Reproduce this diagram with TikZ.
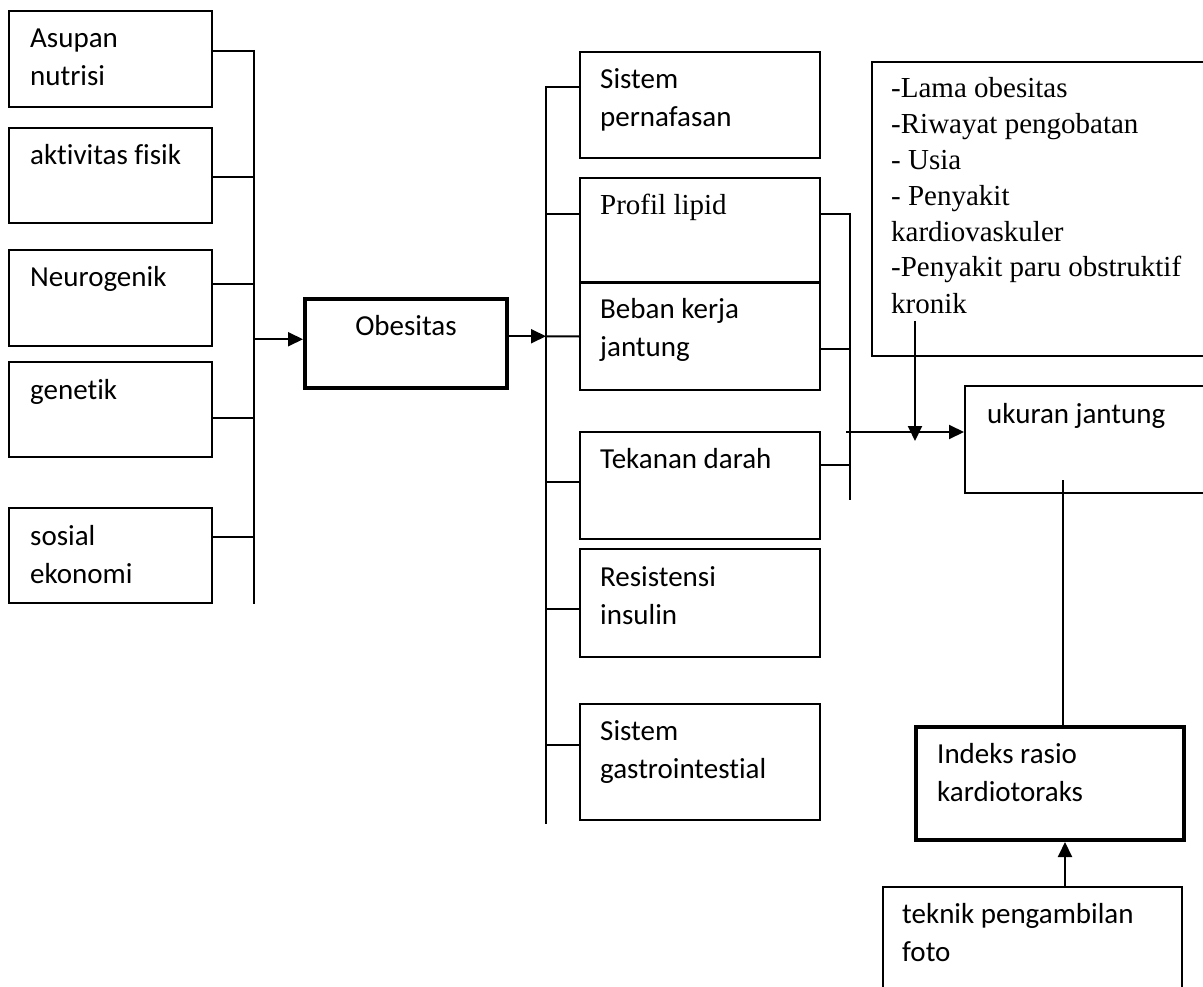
\documentclass[tikz,border=0pt]{standalone}
\usepackage{fontspec}
\setmainfont{Carlito}[Ligatures={NoCommon}]
\newfontfamily\tnr{Liberation Serif}[Ligatures={NoCommon}]
\usetikzlibrary{arrows.meta}

\tikzset{
  kotak/.style={draw, line width=2pt, anchor=north west, inner sep=0pt},
  kotaktebal/.style={kotak, line width=4pt},
  teks/.style={anchor=base west, align=left, inner sep=0pt, font=\fontsize{29}{38}\selectfont},
  teksserif/.style={teks, font=\tnr\fontsize{29}{36}\selectfont},
  garis/.style={line width=2pt},
  panah/.style={line width=2pt, -{Triangle[length=15pt,width=14pt]}}
}

\begin{document}
\begin{tikzpicture}[x=1pt, y=-1pt]
			\clip (0,0) rectangle (1203,987);

			% Faktor penyebab obesitas (base = baris terakhir)
			\node[kotak, minimum width=203pt, minimum height=96pt] (asupan) at (8,10) {};
			\node[teks] (tasupan) at ([shift={(22,76)}]asupan.north west) {Asupan\\nutrisi};
			\node[kotak, minimum width=203pt, minimum height=95pt] (aktivitas) at (8,127) {};
			\node[teks] (taktivitas) at ([shift={(22,38)}]aktivitas.north west) {aktivitas fisik};
			\node[kotak, minimum width=203pt, minimum height=96pt] (neuro) at (8,249) {};
			\node[teks] (tneuro) at ([shift={(22,38)}]neuro.north west) {Neurogenik};
			\node[kotak, minimum width=203pt, minimum height=95pt] (genetik) at (8,361) {};
			\node[teks] (tgenetik) at ([shift={(22,38)}]genetik.north west) {genetik};
			\node[kotak, minimum width=203pt, minimum height=95pt] (sosial) at (8,507) {};
			\node[teks] (tsosial) at ([shift={(22,76)}]sosial.north west) {sosial\\ekonomi};

			% Garis penghubung kiri
			\coordinate (kiriatas) at (254,50);
			\coordinate (kiribawah) at (254,604);
			\draw[garis] (kiriatas) -- (kiribawah);
			\draw[garis] ([yshift=8pt]asupan.east) -- ([yshift=8pt]asupan.east -| kiriatas);
			\draw[garis] ([yshift=-1.5pt]aktivitas.east) -- ([yshift=-1.5pt]aktivitas.east -| kiriatas);
			\draw[garis] ([yshift=14pt]neuro.east) -- ([yshift=14pt]neuro.east -| kiriatas);
			\draw[garis] ([yshift=-8.5pt]genetik.east) -- ([yshift=-8.5pt]genetik.east -| kiriatas);
			\draw[garis] ([yshift=18.5pt]sosial.east) -- ([yshift=18.5pt]sosial.east -| kiriatas);

			% Obesitas
			\node[kotaktebal, minimum width=202pt, minimum height=88.5pt] (obesitas) at (303,297) {};
			\node[teks, anchor=base] (tobesitas) at ([shift={(0,38)}]obesitas.north) {Obesitas};
			\draw[panah] ([yshift=4pt]obesitas.west -| kiriatas) -- ([yshift=4pt]obesitas.west);

			% Dampak obesitas
			\node[kotak, minimum width=240pt, minimum height=106pt] (pernafasan) at (579,51) {};
			\node[teks] (tpernafasan) at ([shift={(21,76)}]pernafasan.north west) {Sistem\\pernafasan};
			\node[kotak, minimum width=240pt, minimum height=104pt] (profil) at (579,177) {};
			\node[teksserif] (tprofil) at ([shift={(21,38)}]profil.north west) {Profil lipid};
			\node[kotak, minimum width=240pt, minimum height=107pt] (beban) at (579,282) {};
			\node[teks] (tbeban) at ([shift={(21,74)}]beban.north west) {Beban kerja\\jantung};
			\node[kotak, minimum width=240pt, minimum height=107pt] (tekanan) at (579,431) {};
			\node[teks] (ttekanan) at ([shift={(21,37)}]tekanan.north west) {Tekanan darah};
			\node[kotak, minimum width=240pt, minimum height=108pt] (resistensi) at (579,548) {};
			\node[teks] (tresistensi) at ([shift={(21,76)}]resistensi.north west) {Resistensi\\insulin};
			\node[kotak, minimum width=240pt, minimum height=116pt] (gastro) at (579,703) {};
			\node[teks] (tgastro) at ([shift={(21,75)}]gastro.north west) {Sistem\\gastrointestial};

			% Garis penghubung tengah
			\coordinate (tengahatas) at (546,86);
			\coordinate (tengahbawah) at (546,824);
			\draw[garis] (tengahatas) -- (tengahbawah);
			\draw[panah] ([yshift=7pt]obesitas.east) -- ([yshift=7pt]obesitas.east -| tengahatas);
			\draw[garis] ([yshift=7pt]obesitas.east -| tengahatas) -- (beban.west);
			\draw[garis] ([yshift=18pt]pernafasan.west) -- ([yshift=18pt]pernafasan.west -| tengahatas);
			\draw[garis] ([yshift=16pt]profil.west) -- ([yshift=16pt]profil.west -| tengahatas);
			\draw[garis] ([yshift=3.5pt]tekanan.west) -- ([yshift=3.5pt]tekanan.west -| tengahatas);
			\draw[garis] ([yshift=-6pt]resistensi.west) -- ([yshift=-6pt]resistensi.west -| tengahatas);
			\draw[garis] ([yshift=17pt]gastro.west) -- ([yshift=17pt]gastro.west -| tengahatas);

			% Garis penghubung kanan
			\coordinate (kananatas) at (850,213);
			\coordinate (kananbawah) at (850,500);
			\draw[garis] (kananatas) -- (kananbawah);
			\draw[garis] ([yshift=16pt]profil.east) -- ([yshift=16pt]profil.east -| kananatas);
			\draw[garis] ([yshift=-12.5pt]beban.east) -- ([yshift=-12.5pt]beban.east -| kananatas);
			\draw[garis] ([yshift=20.5pt]tekanan.east) -- ([yshift=20.5pt]tekanan.east -| kananatas);

			% Faktor perancu
			\node[kotak, minimum width=345pt, minimum height=294pt] (risiko) at (871,61) {};
			\node[teksserif] (trisiko) at ([shift={(20,252)}]risiko.north west) {-Lama obesitas\\-Riwayat pengobatan\\- Usia\\- Penyakit\\kardiovaskuler\\-Penyakit paru obstruktif\\kronik};

			% Ukuran jantung
			\node[kotak, minimum width=260pt, minimum height=107pt] (ukuran) at (964,385) {};
			\node[teks] (tukuran) at ([shift={(23,38)}]ukuran.north west) {ukuran jantung};
			\draw[panah] ([xshift=-4pt, yshift=7.5pt]ukuran.west -| kananatas) -- ([yshift=7.5pt]ukuran.west);
			\coordinate (kronik) at (915,321);
			\coordinate (turun) at (915,441);
			\draw[panah] (kronik) -- (turun);

			% Indeks rasio kardiotoraks
			\node[kotaktebal, minimum width=268pt, minimum height=113pt] (indeks) at (914,725) {};
			\node[teks] (tindeks) at ([shift={(23,76)}]indeks.north west) {Indeks rasio\\kardiotoraks};
			\coordinate (ukuranbawah) at (1063,480);
			\draw[garis] (ukuranbawah) -- (ukuranbawah |- indeks.north);

			% Teknik pengambilan foto
			\node[kotak, minimum width=299pt, minimum height=130pt] (teknik) at (882,886) {};
			\node[teks] (tteknik) at ([shift={(20,75)}]teknik.north west) {teknik pengambilan\\foto};
			\draw[panah] ([xshift=15pt]indeks.south |- teknik.north) -- ([xshift=15pt]indeks.south);
		\end{tikzpicture}
\end{document}
